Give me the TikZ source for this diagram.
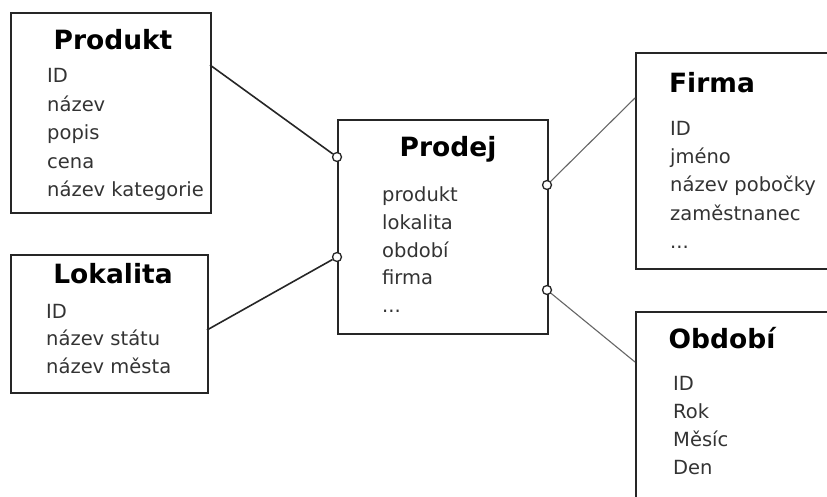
\documentclass[tikz,border=0pt]{standalone}
\usepackage{fontspec}
\setmainfont{DejaVu Sans}
\newcommand\etcdots{...}
\tikzset{
  entity/.style={draw=black!85,line width=1.8pt,anchor=north west,inner sep=0pt},
  title/.style={anchor=base,font=\fontsize{26.5}{30}\selectfont\bfseries,inner sep=0pt},
  item/.style={anchor=base west,inner sep=0pt,text=black!80,
    font=\fontsize{19.5}{24}\selectfont},
  link/.style={draw=black!85,line width=1.6pt},
  thinlink/.style={draw=black!60,line width=1.1pt},
  joint/.style={circle,draw=black!85,line width=1.3pt,fill=white,inner sep=0pt,minimum size=9pt}
}
\begin{document}
\begin{tikzpicture}[x=1pt,y=-1pt]
  \useasboundingbox (0,0) rectangle (827,497);
  \clip (0,0) rectangle (827,497);
  % tables
  \node[entity,minimum width=200pt,minimum height=200pt] (produkt) at (10,12) {};
  \node[entity,minimum width=197pt,minimum height=138pt] (lokalita) at (10,254) {};
  \node[entity,minimum width=210pt,minimum height=214pt] (prodej) at (337,119) {};
  \node[entity,minimum width=220pt,minimum height=216pt] (firma) at (635,52) {};
  \node[entity,minimum width=220pt,minimum height=220pt] (obdobi) at (635,311) {};
  % titles
  \node[title] (produktT) at (113,50) {Produkt};
  \node[title] (lokalitaT) at (113,283) {Lokalita};
  \node[title] (prodejT) at (448,157) {Prodej};
  \node[title] (firmaT) at (712,93) {Firma};
  \node[title] (obdobiT) at (722,348) {Období};
  % attributes
  \foreach \t [count=\i] in {ID,název,popis,cena,název kategorie}
    \node[item] (produktA\i) at (47,83+28.4*\i-28.4) {\t};
  \foreach \t [count=\i] in {ID,název státu,název města}
    \node[item] (lokalitaA\i) at (46,318+27.8*\i-27.8) {\t};
  \foreach \t [count=\i] in {produkt,lokalita,období,firma,\etcdots}
    \node[item] (prodejA\i) at (382,202+27.6*\i-27.6) {\t};
  \foreach \t [count=\i] in {ID,jméno,název pobočky,zaměstnanec,\etcdots}
    \node[item] (firmaA\i) at (670,136+28*\i-28) {\t};
  \foreach \t [count=\i] in {ID,Rok,Měsíc,Den,\etcdots}
    \node[item] (obdobiA\i) at (673,390+28*\i-28) {\t};
  % relations
  \coordinate (pEnd) at (210,65);
  \coordinate (lEnd) at (207,330);
  \coordinate (fEnd) at (635,98);
  \coordinate (oEnd) at (635,362);
  \node[joint] (j1) at (337,157) {};
  \node[joint] (j2) at (337,257) {};
  \node[joint] (j3) at (547,185) {};
  \node[joint] (j4) at (547,290) {};
  \draw[link] (pEnd) -- (j1);
  \draw[link] (lEnd) -- (j2);
  \draw[thinlink] (j3) -- (fEnd);
  \draw[thinlink] (j4) -- (oEnd);
\end{tikzpicture}
\end{document}
